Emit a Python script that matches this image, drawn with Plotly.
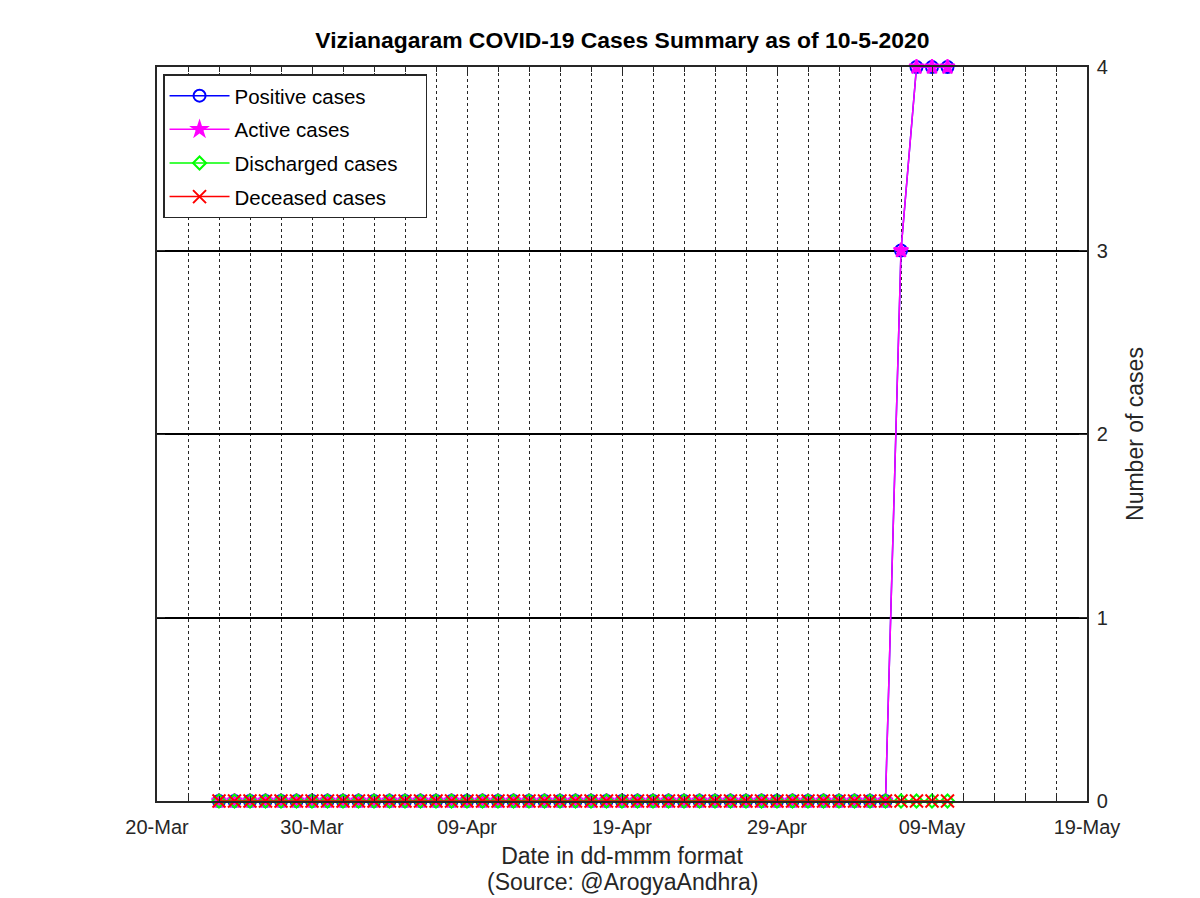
import plotly.graph_objects as go

dates = ["2020-03-24","2020-03-25","2020-03-26","2020-03-27","2020-03-28","2020-03-29","2020-03-30","2020-03-31",
         "2020-04-01","2020-04-02","2020-04-03","2020-04-04","2020-04-05","2020-04-06","2020-04-07","2020-04-08",
         "2020-04-09","2020-04-10","2020-04-11","2020-04-12","2020-04-13","2020-04-14","2020-04-15","2020-04-16",
         "2020-04-17","2020-04-18","2020-04-19","2020-04-20","2020-04-21","2020-04-22","2020-04-23","2020-04-24",
         "2020-04-25","2020-04-26","2020-04-27","2020-04-28","2020-04-29","2020-04-30","2020-05-01","2020-05-02",
         "2020-05-03","2020-05-04","2020-05-05","2020-05-06","2020-05-07","2020-05-08","2020-05-09","2020-05-10"]
positive = [0,0,0,0,0,0,0,0, 0,0,0,0,0,0,0,0, 0,0,0,0,0,0,0,0, 0,0,0,0,0,0,0,0, 0,0,0,0,0,0,0,0, 0,0,0,0,3,4,4,4]
active = [0,0,0,0,0,0,0,0, 0,0,0,0,0,0,0,0, 0,0,0,0,0,0,0,0, 0,0,0,0,0,0,0,0, 0,0,0,0,0,0,0,0, 0,0,0,0,3,4,4,4]
discharged = [0,0,0,0,0,0,0,0, 0,0,0,0,0,0,0,0, 0,0,0,0,0,0,0,0, 0,0,0,0,0,0,0,0, 0,0,0,0,0,0,0,0, 0,0,0,0,0,0,0,0]
deceased = [0,0,0,0,0,0,0,0, 0,0,0,0,0,0,0,0, 0,0,0,0,0,0,0,0, 0,0,0,0,0,0,0,0, 0,0,0,0,0,0,0,0, 0,0,0,0,0,0,0,0]
x_tickvals = ["2020-03-20","2020-03-30","2020-04-09","2020-04-19","2020-04-29","2020-05-09","2020-05-19"]
x_ticktext = ["20-Mar","30-Mar","09-Apr","19-Apr","29-Apr","09-May","19-May"]
y_tickvals = [0, 1, 2, 3, 4]

FONT = "Liberation Sans, Arial, sans-serif"
fig = go.Figure()
series = [
    ("Positive cases", positive, "#0000ff", "circle-open", 12),
    ("Active cases", active, "#ff00ff", "star", 11),
    ("Discharged cases\u00a0\u00a0\u00a0\u00a0", discharged, "#00ff00", "diamond-open", 10),
    ("Deceased cases", deceased, "#ff0000", "x-thin-open", 13),
]
for i, (name, vals, col, sym, sz) in enumerate(series):
    fig.add_trace(go.Scatter(
        x=dates, y=vals, name=name, mode="lines+markers", legendgroup=f"g{i}",
        cliponaxis=False,
        line=dict(color=col, width=1.5),
        marker=dict(symbol=sym, size=sz, color=col, line=dict(color=col, width=2)),
    ))

fig.update_layout(
    width=1200, height=898,
    paper_bgcolor="white", plot_bgcolor="white",
    margin=dict(l=149, r=121, t=59, b=105),
    font=dict(family=FONT, size=19.5, color="#262626"),
    title=dict(text="<b>Vizianagaram COVID-19 Cases Summary as of 10-5-2020</b>",
               x=0.512, xanchor="center", y=0.9644, yanchor="middle",
               font=dict(size=22.9, color="black")),
    legend=dict(x=0.0065, y=0.99, xanchor="left", yanchor="top",
                bgcolor="white", bordercolor="#262626", borderwidth=1.5,
                font=dict(size=20.5, color="black"), itemwidth=60, tracegroupgap=4),
    showlegend=True,
    annotations=[dict(text="(Source: @ArogyaAndhra)", xref="paper", yref="paper",
                      x=0.5, y=-(882 - 801) / 734, xanchor="center", yanchor="middle",
                      showarrow=False, font=dict(size=23, color="#262626"))],
)
fig.update_xaxes(
    type="date", range=["2020-03-20", "2020-05-19"],
    tickmode="array", tickvals=x_tickvals, ticktext=x_ticktext,
    showline=True, linecolor="#262626", linewidth=1.5, mirror="allticks",
    ticks="inside", ticklen=8, tickcolor="#262626", ticklabelstandoff=7,
    tickfont=dict(size=20),
    showgrid=True, gridcolor="#262626", griddash="dot", gridwidth=1.3,
    minor=dict(dtick=2*86400000, tick0="2020-03-20", showgrid=True, gridcolor="#262626",
               griddash="dot", gridwidth=1.3, ticks="inside", ticklen=5, tickcolor="#262626"),
    zeroline=False,
    title=dict(text="Date in dd-mmm format", standoff=11,
               font=dict(size=23, color="#262626")),
)
fig.update_yaxes(
    side="right", range=[0, 4], tickmode="array", tickvals=y_tickvals,
    showline=True, linecolor="#262626", linewidth=1.5, mirror="allticks",
    ticks="inside", ticklen=8, tickcolor="#262626", ticklabelstandoff=4,
    tickfont=dict(size=20),
    showgrid=True, gridcolor="black", gridwidth=1.5, zeroline=False,
    title=dict(text="Number of cases", standoff=20, font=dict(size=23, color="#262626")),
)
fig.write_html("out.html")
